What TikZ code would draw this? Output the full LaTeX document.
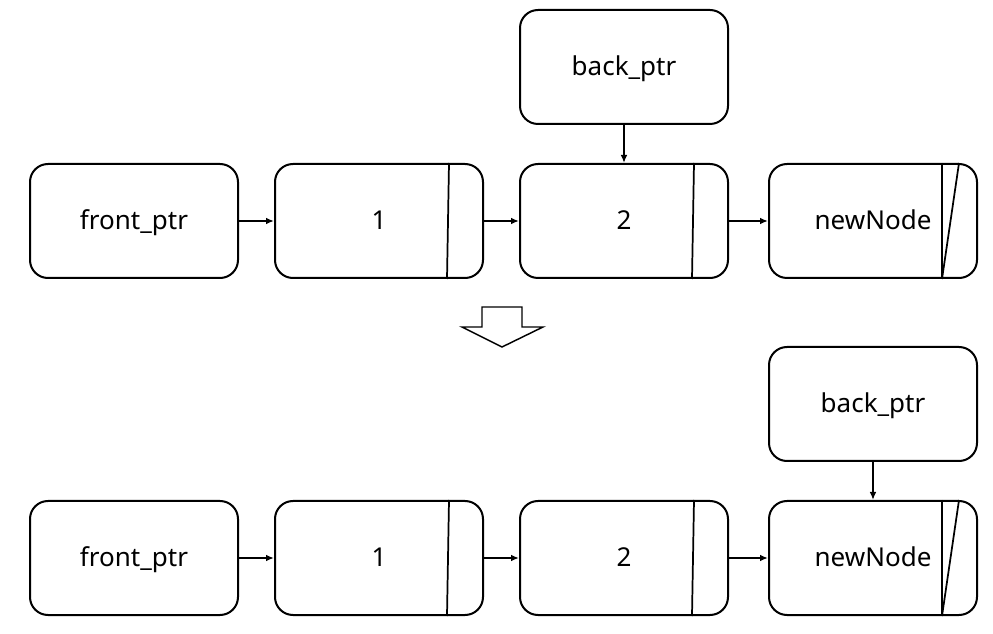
\documentclass[tikz,border=0pt]{standalone}
\usepackage{fontspec}
\setmainfont{Noto Sans}
\usetikzlibrary{arrows.meta,calc}
\begin{document}
\begin{tikzpicture}[x=0.75pt,y=-0.75pt,
  box/.style={draw,line width=1.5pt,rounded corners=13.5pt,minimum width=156pt,
    minimum height=85.5pt,inner sep=0pt,text height=1.3em,text depth=0em,
    font=\fontsize{19.5}{23}\selectfont},
  link/.style={line width=1.3pt,-{Latex[length=6pt,width=5pt]}},
  divider/.style={line width=1.3pt}]
\useasboundingbox (0,0) rectangle (993,634);

% list before the insertion
\node[box] (fa) at (134,221) {front\_ptr};
\node[box] (oa) at (379,221) {1};
\node[box] (ta) at (624,221) {2};
\node[box] (na) at (873,221) {newNode};
\node[box] (ba) at (624,67) {back\_ptr};

% list after the insertion
\node[box] (fb) at (134,558) {front\_ptr};
\node[box] (ob) at (379,558) {1};
\node[box] (tb) at (624,558) {2};
\node[box] (nb) at (873,558) {newNode};
\node[box] (bb) at (873,404) {back\_ptr};

% next-pointer fields
\foreach \n in {oa,ta,ob,tb}{
  \draw[divider] ($(\n.north west)+(175,0)$) -- ($(\n.south west)+(173,0)$);
}
\foreach \n in {na,nb}{
  \draw[divider] ($(\n.north west)+(174,0)$) -- ($(\n.south west)+(174,0)$);
  \draw[divider] ($(\n.north west)+(191,0)$) -- ($(\n.south west)+(174,0)$);
}

% links
\draw[link] (fa) -- (oa);
\draw[link] (oa) -- (ta);
\draw[link] (ta) -- (na);
\draw[link] (ba) -- (ta);
\draw[link] (fb) -- (ob);
\draw[link] (ob) -- (tb);
\draw[link] (tb) -- (nb);
\draw[link] (bb) -- (nb);

% transition arrow
\draw[line width=1.1pt,line join=miter,fill=white]
  (482,307) -- (522,307) -- (522,327) -- (543,327) -- (502,347)
  -- (462,327) -- (482,327) -- cycle;
\end{tikzpicture}
\end{document}
